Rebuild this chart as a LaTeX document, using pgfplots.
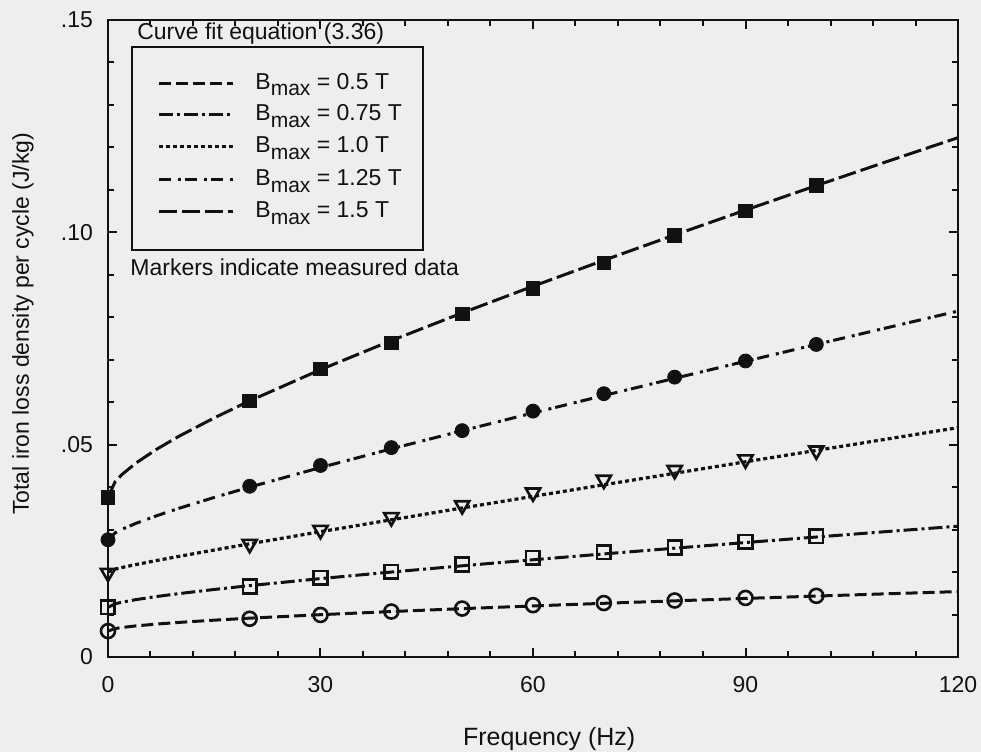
\documentclass[border=0pt]{standalone}
\usepackage{fontspec}
\setmainfont{Liberation Sans}
\usepackage{pgfplots}
\pgfplotsset{compat=1.18}
\usetikzlibrary{backgrounds}
\definecolor{paper}{HTML}{EEEEEE}
\definecolor{ink}{HTML}{111111}
\newcommand{\lblfont}{\fontsize{11.5}{13}\selectfont}
\newcommand{\bmax}{B\raisebox{-3.3pt}{\fontsize{10.5}{12}\selectfont max}}
\tikzset{
  b05/.style={draw=ink, line width=1.5pt, dash pattern=on 6pt off 2.5pt},
  b075/.style={draw=ink, line width=1.5pt, dash pattern=on 7pt off 2pt on 1.5pt off 2pt},
  b10/.style={draw=ink, line width=1.6pt, dash pattern=on 2pt off 1.5pt},
  b125/.style={draw=ink, line width=1.5pt, dash pattern=on 6pt off 3.5pt on 1.5pt off 2pt},
  b15/.style={draw=ink, line width=1.5pt, dash pattern=on 9pt off 2.5pt},
  legtext/.style={anchor=base west, font=\lblfont, text=ink, inner sep=0pt}
}
\begin{document}
\begin{tikzpicture}
\begin{axis}[
  name=ax,
  scale only axis,
  width=425pt, height=318.5pt,
  xmin=0, xmax=120, ymin=0, ymax=0.15,
  xtick={0,30,60,90,120}, xticklabels={0,30,60,90,120},
  ytick={0,0.05,0.10,0.15}, yticklabels={0,.05,.10,.15},
  minor x tick num=4, minor y tick num=4,
  xtick pos=both, ytick pos=both, tick align=inside,
  major tick length=4.5pt, minor tick length=3pt,
  every tick/.style={ink, line width=1pt},
  axis line style={ink, line width=1.3pt},
  /pgf/number format/assume math mode=true,
  ticklabel style={font=\lblfont, text=ink},
  xticklabel style={yshift=-6pt},
  yticklabel style={xshift=-4pt},
  xlabel={Frequency (Hz)},
  ylabel={Total iron loss density per cycle (J/kg)},
  xlabel style={at={(rel axis cs:0.519,-0.129)}, anchor=center, font=\fontsize{12.5}{14}\selectfont, text=ink},
  ylabel style={at={(rel axis cs:-0.1,0.523)}, anchor=center, font=\lblfont, text=ink},
]
% Bmax = 1.5 T
\addplot[b15] coordinates {(0,0.0376)(1,0.04125)(2,0.04301)(4,0.04573)(7,0.04905)(10,0.05196)(15,0.05631)(20,0.0603)(30,0.06766)(40,0.0745)(50,0.08102)(60,0.0873)(70,0.09341)(80,0.09938)(90,0.10524)(100,0.1110)(110,0.11668)(120,0.12229)};
\addplot[only marks, mark=square*, mark size=3.4pt, mark options={draw=ink, fill=ink, solid}] coordinates {(0,0.0376)(20,0.0603)(30,0.0678)(40,0.0740)(50,0.0808)(60,0.0868)(70,0.0928)(80,0.0993)(90,0.1050)(100,0.1110)};
% Bmax = 1.25 T
\addplot[b125] coordinates {(0,0.0276)(1,0.02923)(2,0.03009)(4,0.03151)(7,0.03334)(10,0.035)(15,0.03757)(20,0.04)(30,0.04461)(40,0.04901)(50,0.05328)(60,0.05746)(70,0.06157)(80,0.06562)(90,0.06963)(100,0.0736)(110,0.07754)(120,0.08145)};
\addplot[only marks, mark=*, mark size=3.5pt, mark options={draw=ink, fill=ink, solid}] coordinates {(0,0.0276)(20,0.0402)(30,0.0451)(40,0.0493)(50,0.0533)(60,0.0579)(70,0.0620)(80,0.0659)(90,0.0697)(100,0.0736)};
% Bmax = 1.0 T
\addplot[b10] coordinates {(0,0.0201)(1,0.02069)(2,0.02108)(4,0.02178)(7,0.02276)(10,0.02369)(15,0.02519)(20,0.02665)(30,0.0295)(40,0.03231)(50,0.03508)(60,0.03782)(70,0.04055)(80,0.04326)(90,0.04596)(100,0.04865)(110,0.05133)(120,0.054)};
\addplot[only marks, mark=triangle, mark size=4.1pt, mark options={draw=ink, line width=1.3pt, rotate=180, solid}] coordinates {(0,0.0198)(20,0.0266)(30,0.0299)(40,0.0329)(50,0.0357)(60,0.0387)(70,0.0417)(80,0.0440)(90,0.0465)(100,0.0486)};
% Bmax = 0.75 T
\addplot[b075] coordinates {(0,0.0117)(1,0.01252)(2,0.01291)(4,0.01352)(7,0.01427)(10,0.01492)(15,0.0159)(20,0.0168)(30,0.01846)(40,0.0200)(50,0.02147)(60,0.02289)(70,0.02427)(80,0.02562)(90,0.02695)(100,0.02825)(110,0.02954)(120,0.0308)};
\addplot[only marks, mark=square, mark size=3.4pt, mark options={draw=ink, line width=1.3pt, solid}] coordinates {(0,0.0117)(20,0.0166)(30,0.0186)(40,0.0201)(50,0.0218)(60,0.0234)(70,0.0247)(80,0.0258)(90,0.0271)(100,0.0284)};
% Bmax = 0.5 T
\addplot[b05] coordinates {(0,0.0061)(1,0.00669)(2,0.00695)(4,0.00733)(7,0.00777)(10,0.00814)(15,0.00867)(20,0.00914)(30,0.00996)(40,0.0107)(50,0.01138)(60,0.01202)(70,0.01264)(80,0.01322)(90,0.01379)(100,0.01434)(110,0.01488)(120,0.0154)};
\addplot[only marks, mark=o, mark size=3.5pt, mark options={draw=ink, line width=1.3pt, solid}] coordinates {(0,0.0061)(20,0.0090)(30,0.0099)(40,0.0107)(50,0.0114)(60,0.0122)(70,0.0127)(80,0.0133)(90,0.0139)(100,0.0144)};

% legend
\node[anchor=west, font=\lblfont, text=ink, inner sep=0pt] at (rel axis cs:0.034,0.978) {Curve fit equation (3.36)};
\draw[ink, line width=1pt] (rel axis cs:0.0282,0.9576) rectangle (rel axis cs:0.3706,0.6389);
\draw[b05]  (rel axis cs:0.06,0.901) -- (rel axis cs:0.147,0.901);
\draw[b075] (rel axis cs:0.06,0.851) -- (rel axis cs:0.147,0.851);
\draw[b10]  (rel axis cs:0.06,0.801) -- (rel axis cs:0.147,0.801);
\draw[b125] (rel axis cs:0.06,0.749) -- (rel axis cs:0.147,0.749);
\draw[b15]  (rel axis cs:0.06,0.699) -- (rel axis cs:0.147,0.699);
\node[legtext, yshift=-3pt] at (rel axis cs:0.173,0.901) {\bmax{} = 0.5 T};
\node[legtext, yshift=-3pt] at (rel axis cs:0.173,0.851) {\bmax{} = 0.75 T};
\node[legtext, yshift=-3pt] at (rel axis cs:0.173,0.801) {\bmax{} = 1.0 T};
\node[legtext, yshift=-3pt] at (rel axis cs:0.173,0.749) {\bmax{} = 1.25 T};
\node[legtext, yshift=-3pt] at (rel axis cs:0.173,0.699) {\bmax{} = 1.5 T};
\node[anchor=west, font=\lblfont, text=ink, inner sep=0pt] at (rel axis cs:0.0259,0.612) {Markers indicate measured data};
\end{axis}
\pgfresetboundingbox
\begin{pgfonlayer}{background}
  \fill[paper] ([shift={(-54pt,-47.5pt)}]ax.south west) rectangle ([shift={(11.5pt,10pt)}]ax.north east);
\end{pgfonlayer}
\end{tikzpicture}
\end{document}
